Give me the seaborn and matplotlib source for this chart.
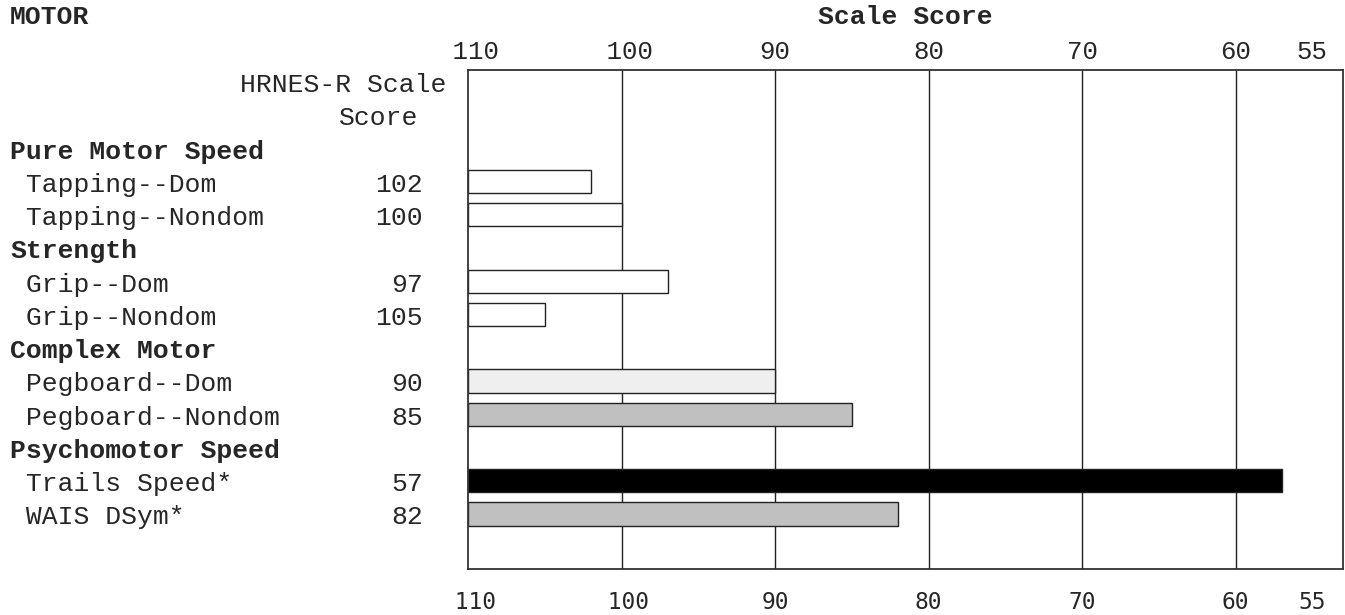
# Gráfico MOTOR - escores HRNES-R em barras horizontais (eixo invertido 110 -> 55)
import seaborn as sns
import matplotlib.pyplot as plt
import pandas as pd

# dados
linhas = ['HRNES-R Scale', 'Score', 'Pure Motor Speed', ' Tapping--Dom', ' Tapping--Nondom',
          'Strength', ' Grip--Dom', ' Grip--Nondom', 'Complex Motor', ' Pegboard--Dom',
          ' Pegboard--Nondom', 'Psychomotor Speed', ' Trails Speed*', ' WAIS DSym*', '']
grupos = ['Pure Motor Speed', 'Strength', 'Complex Motor', 'Psychomotor Speed']
testes = [' Tapping--Dom', ' Tapping--Nondom', ' Grip--Dom', ' Grip--Nondom',
          ' Pegboard--Dom', ' Pegboard--Nondom', ' Trails Speed*', ' WAIS DSym*']
escores = [102, 100, 97, 105, 90, 85, 57, 82]
cores = ['#ffffff', '#ffffff', '#ffffff', '#ffffff', '#efefef', '#c0c0c0', '#000000', '#c0c0c0']
ticks_escala = [110, 100, 90, 80, 70, 60, 55]
grade_escala = [100, 90, 80, 70, 60]
base = 110      # as barras partem de 110
limite = 53     # fim do eixo a direita

df = pd.DataFrame({'teste': testes, 'escore': escores})
df['deficit'] = base - df['escore']   # comprimento da barra a partir de 110

sns.set_style('white')
plt.rcParams['font.family'] = ['Liberation Mono', 'DejaVu Sans']

fig = plt.figure(figsize=(13.45, 6.15), dpi=100)
ax = fig.add_axes([468 / 1345, 46 / 615, 875 / 1345, 499 / 615])

for g in grade_escala:
    ax.axvline(base - g, color='#222222', lw=1, zorder=0)

sns.barplot(data=df, x='deficit', y='teste', order=linhas, hue='teste',
            palette=dict(zip(testes, cores)), legend=False, width=0.7,
            edgecolor='#222222', linewidth=1, orient='h', ax=ax, zorder=2)

ax.set_xlim(0, base - limite)
ax.set_ylim(len(linhas) - 0.35, -0.35)
ax.set_yticks([])
ax.set_xlabel('')
ax.set_ylabel('')

# rótulos de escala: os de 3 dígitos ficam meio caractere à direita
rotulos = [f' {t}' if t >= 100 else str(t) for t in ticks_escala]
posicoes = [base - t for t in ticks_escala]

# eixo de baixo
ax.set_xticks(posicoes)
ax.set_xticklabels(rotulos, fontfamily='DejaVu Sans Mono', fontsize=16.5)
ax.tick_params(axis='x', length=0, pad=16)

# eixo de cima
topo = ax.secondary_xaxis('top')
topo.set_xticks(posicoes)
topo.set_xticklabels(rotulos, fontfamily='Liberation Mono', fontsize=18.5)
topo.tick_params(axis='x', length=0, pad=4)
topo.spines['top'].set_visible(False)

for s in ax.spines.values():
    s.set_color('#333333')
    s.set_linewidth(1.3)

# rótulos da esquerda
trans = ax.get_yaxis_transform()
x_texto = (10 - 468) / 875
x_valor = (423 - 468) / 875
for i, nome in enumerate(linhas):
    if nome in grupos:
        ax.text(x_texto, i + 0.1, nome, transform=trans, ha='left', va='center',
                fontsize=19, fontweight='bold', clip_on=False)
    elif nome in testes:
        ax.text(x_texto, i + 0.1, nome, transform=trans, ha='left', va='center',
                fontsize=19, clip_on=False)
        ax.text(x_valor, i + 0.1, str(escores[testes.index(nome)]), transform=trans,
                ha='right', va='center', fontsize=19, clip_on=False)

ax.text((446 - 468) / 875, 0.1, 'HRNES-R Scale', transform=trans, ha='right', va='center', fontsize=19)
ax.text((418 - 468) / 875, 1.1, 'Score', transform=trans, ha='right', va='center', fontsize=19)

fig.text(10 / 1345, 1 - 17.5 / 615, 'MOTOR', ha='left', va='center', fontsize=19, fontweight='bold')
fig.text(905.5 / 1345, 1 - 17.5 / 615, 'Scale Score', ha='center', va='center', fontsize=19, fontweight='bold')

plt.savefig('out.png', dpi=100)
